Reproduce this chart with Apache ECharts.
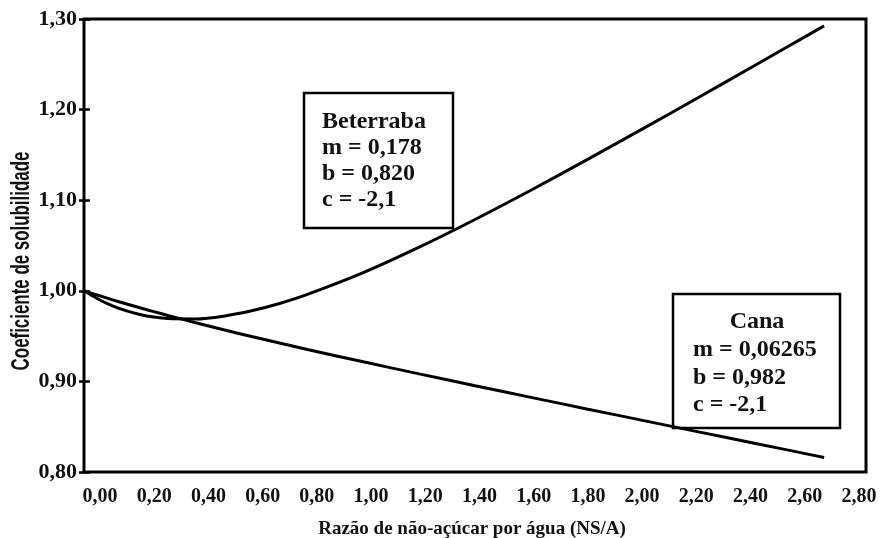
<!DOCTYPE html>
<html>
<head>
<meta charset="utf-8">
<script src="https://cdn.jsdelivr.net/npm/echarts@6/dist/echarts.min.js"></script>
<style>
  html, body { margin: 0; padding: 0; background: #fff; }
  #chart { width: 882px; height: 538px; }
</style>
</head>
<body>
<div id="chart"></div>
<script>
// Razão de não-açúcar por água (NS/A)
const nsA = [0, 0.05, 0.1, 0.15, 0.2, 0.25, 0.3, 0.4, 0.5, 0.6, 0.7, 0.8, 1.0, 1.2, 1.4, 1.6, 1.8, 2.0, 2.2, 2.4, 2.6, 2.65];

// Coeficiente de solubilidade – beterraba
const beterraba = [1.0000, 0.9910, 0.9837, 0.9781, 0.9739, 0.9710, 0.9693, 0.9689, 0.9720, 0.9779, 0.9860, 0.9960, 1.0200, 1.0481, 1.0787, 1.1110, 1.1445, 1.1787, 1.2134, 1.2484, 1.2836, 1.2924];

// Coeficiente de solubilidade – cana
const cana = [1.0000, 0.9951, 0.9903, 0.9857, 0.9813, 0.9770, 0.9728, 0.9647, 0.9570, 0.9495, 0.9423, 0.9352, 0.9216, 0.9083, 0.8952, 0.8824, 0.8696, 0.8570, 0.8443, 0.8318, 0.8192, 0.8160];

// Tick labels
const xTicks = [0, 0.2, 0.4, 0.6, 0.8, 1.0, 1.2, 1.4, 1.6, 1.8, 2.0, 2.2, 2.4, 2.6, 2.8];
const yTicks = [0.8, 0.9, 1.0, 1.1, 1.2, 1.3];

// Parameter boxes
const betLines = ['Beterraba', 'm = 0,178', 'b = 0,820', 'c = -2,1'];
const canaLines = ['Cana', 'm = 0,06265', 'b = 0,982', 'c = -2,1'];

const xName = 'Razão de não-açúcar por água (NS/A)';
const yName = 'Coeficiente de solubilidade';

const SERIF = '"Liberation Serif", "Times New Roman", serif';
const SANS = '"Liberation Sans", Arial, sans-serif';
const INK = '#111';

const fmt = v => v.toFixed(2).replace('.', ',');
const pairs = arr => nsA.map((x, i) => [x, arr[i]]);

const chart = echarts.init(document.getElementById('chart'), null, { renderer: 'canvas' });

function textLines(lines, x0, y0, step, firstCentered, cx) {
  return lines.map((t, i) => ({
    type: 'text',
    x: (i === 0 && firstCentered) ? cx : x0,
    y: y0 + i * step,
    style: {
      text: t,
      font: 'bold 24px ' + SERIF,
      fill: INK,
      align: (i === 0 && firstCentered) ? 'center' : 'left',
      verticalAlign: 'middle'
    }
  }));
}

const lineStyle = { color: '#000', width: 3 };

const option = {
  backgroundColor: '#fff',
  animation: false,
  grid: {
    left: 84, top: 19, width: 782, height: 453,
    show: true, borderColor: '#000', borderWidth: 3, backgroundColor: 'transparent'
  },
  xAxis: [
    {
      type: 'value', min: 0, max: 2.8, interval: 0.2,
      axisLine: { show: false, onZero: false },
      axisTick: { show: false },
      axisLabel: { show: false },
      splitLine: { show: false }
    },
    {
      // label track for the printed scale
      type: 'value', min: -0.059, max: 2.826, position: 'bottom',
      axisLine: { show: false, onZero: false },
      axisTick: { show: false },
      splitLine: { show: false },
      axisLabel: {
        customValues: xTicks,
        formatter: fmt,
        margin: 15,
        fontFamily: SERIF, fontWeight: 'bold', fontSize: 20, color: INK
      }
    }
  ],
  yAxis: [
    {
      type: 'value', min: yTicks[0], max: yTicks[yTicks.length - 1], interval: 0.1,
      axisLine: { show: false, onZero: false },
      axisTick: { show: true, length: 5, lineStyle: { color: '#000', width: 2.5 } },
      splitLine: { show: false },
      axisLabel: {
        formatter: fmt, margin: 7,
        fontFamily: SERIF, fontWeight: 'bold', fontSize: 22, color: INK,
        padding: [6, 0, 0, 0]
      }
    },
    {
      type: 'value', min: yTicks[0], max: yTicks[yTicks.length - 1], interval: 0.1, position: 'left',
      axisLine: { show: false, onZero: false },
      axisTick: { show: true, inside: true, length: 6, lineStyle: { color: '#000', width: 2.5 } },
      axisLabel: { show: false },
      splitLine: { show: false }
    }
  ],
  series: [
    {
      name: 'Beterraba', type: 'line', data: pairs(beterraba),
      xAxisIndex: 0, yAxisIndex: 0,
      smooth: 0.3, showSymbol: false,
      lineStyle: lineStyle, z: 3
    },
    {
      name: 'Cana', type: 'line', data: pairs(cana),
      xAxisIndex: 0, yAxisIndex: 0,
      smooth: 0.3, showSymbol: false,
      lineStyle: lineStyle, z: 3
    }
  ],
  graphic: [
    {
      type: 'group', z: 100,
      children: [
        { type: 'rect', shape: { x: 304, y: 93, width: 149, height: 135 },
          style: { fill: '#fff', stroke: '#000', lineWidth: 2.5 } }
      ].concat(textLines(betLines, 322, 122, 26, false, 0))
    },
    {
      type: 'group', z: 100,
      children: [
        { type: 'rect', shape: { x: 673, y: 294, width: 167, height: 134 },
          style: { fill: '#fff', stroke: '#000', lineWidth: 2.5 } }
      ].concat(textLines(canaLines, 693, 322, 27.7, true, 757))
    },
    {
      // condensed axis title, reading bottom to top
      type: 'text', x: 22, y: 261, rotation: Math.PI / 2, scaleX: 0.65,
      style: {
        text: yName, font: 'bold 26px ' + SANS, fill: INK,
        align: 'center', verticalAlign: 'middle'
      }
    },
    {
      type: 'text', x: 472, y: 529,
      style: {
        text: xName, font: 'bold 19px ' + SERIF, fill: INK,
        align: 'center', verticalAlign: 'middle'
      }
    }
  ]
};

chart.setOption(option);
</script>
</body>
</html>
